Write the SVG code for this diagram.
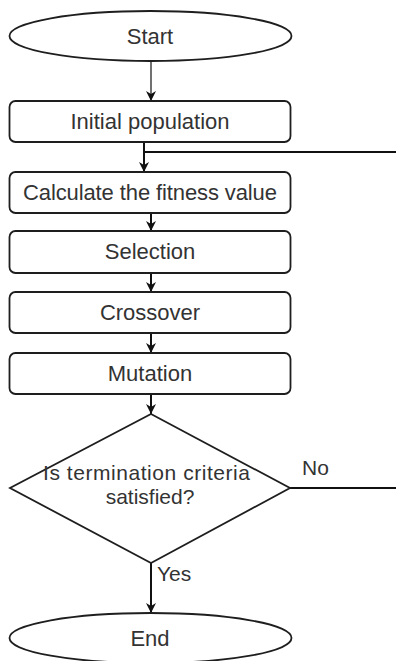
<svg xmlns="http://www.w3.org/2000/svg" width="396" height="661" viewBox="0 0 396 661">
<defs>
<style>
.shape{fill:#fff;stroke:#1e1e1e;stroke-width:1.8}
.t{font-family:"Liberation Sans",Arial,sans-serif;font-size:22px;fill:#333;text-anchor:middle}
.d{font-size:21px}
.lbl{font-family:"Liberation Sans",Arial,sans-serif;font-size:21px;fill:#333}
.c{fill:none;stroke:#111;stroke-width:2}
.thin{fill:none;stroke:#111;stroke-width:1.2}
</style>
<marker id="ah" viewBox="0 0 10 10" refX="10" refY="5" markerWidth="10" markerHeight="10" markerUnits="userSpaceOnUse" orient="auto">
<path d="M0,0 L10,5 L0,10 L3,5 Z" fill="#111"/>
</marker>
</defs>
<g id="connectors">
<line class="thin" x1="151" y1="61" x2="151" y2="101" marker-end="url(#ah)"/>
<line class="c" x1="144" y1="142" x2="144" y2="172" marker-end="url(#ah)"/>
<line class="c" x1="144" y1="152" x2="396" y2="152"/>
<line class="c" x1="151" y1="213" x2="151" y2="231" marker-end="url(#ah)"/>
<line class="c" x1="151" y1="273" x2="151" y2="292" marker-end="url(#ah)"/>
<line class="c" x1="151" y1="333" x2="151" y2="353" marker-end="url(#ah)"/>
<line class="c" x1="151" y1="394" x2="151" y2="414" marker-end="url(#ah)"/>
<line class="c" x1="290" y1="488" x2="396" y2="488"/>
<text class="lbl" x="302" y="475">No</text>
<line class="c" x1="151" y1="563" x2="151" y2="613" marker-end="url(#ah)"/>
<text class="lbl" x="157" y="581">Yes</text>
</g>
<g id="start">
<ellipse class="shape" cx="150.5" cy="36" rx="141" ry="25"/>
<text class="t" x="150" y="44">Start</text>
</g>
<g id="initial">
<rect class="shape" x="9.5" y="101" width="281" height="41" rx="6"/>
<text class="t" x="150" y="129">Initial population</text>
</g>
<g id="fitness">
<rect class="shape" x="9.5" y="172" width="281" height="41" rx="6"/>
<text class="t" x="150" y="200" textLength="254">Calculate the fitness value</text>
</g>
<g id="selection">
<rect class="shape" x="9.5" y="231" width="281" height="42" rx="6"/>
<text class="t" x="150" y="259">Selection</text>
</g>
<g id="crossover">
<rect class="shape" x="9.5" y="292" width="281" height="41" rx="6"/>
<text class="t" x="150" y="320">Crossover</text>
</g>
<g id="mutation">
<rect class="shape" x="9.5" y="353" width="281" height="41" rx="6"/>
<text class="t" x="150" y="381">Mutation</text>
</g>
<g id="decision">
<polygon class="shape" points="151,414 290,488 151,563 10,488"/>
<text class="t d" x="146.5" y="480" textLength="207">Is termination criteria</text>
<text class="t d" x="150" y="504">satisfied?</text>
</g>
<g id="end">
<ellipse class="shape" cx="150.5" cy="638" rx="141" ry="25"/>
<text class="t" x="150" y="646">End</text>
</g>
</svg>
